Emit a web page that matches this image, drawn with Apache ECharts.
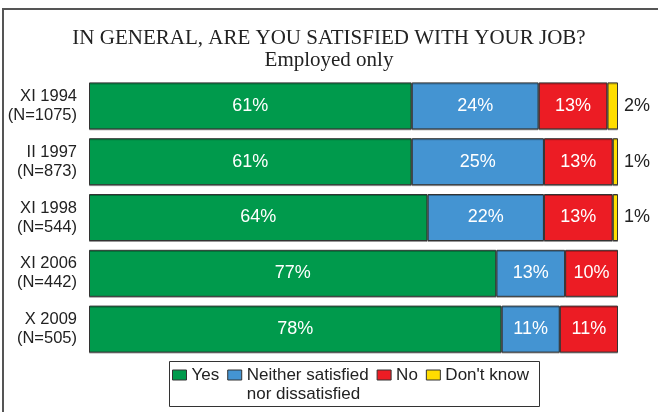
<!DOCTYPE html>
<html>
<head>
<meta charset="utf-8">
<style>
  html, body { margin: 0; padding: 0; background: #fff; }
  #chart { width: 658px; height: 412px; }
</style>
<script src="https://cdn.jsdelivr.net/npm/echarts@6/dist/echarts.min.js"></script>
</head>
<body>
<div id="chart"></div>
<script>
// Survey waves and sample sizes
const periods = ['XI 1994', 'II 1997', 'XI 1998', 'XI 2006', 'X 2009'];
const sampleSizes = [1075, 873, 544, 442, 505];

// Answer shares, percent
const yesValues = [61, 61, 64, 77, 78];
const neitherValues = [24, 25, 22, 13, 11];
const noValues = [13, 13, 13, 10, 11];
const dontKnowValues = [2, 1, 1, null, null];

const NEITHER = 'Neither satisfied nor dissatisfied';
const seriesNames = ['Yes', NEITHER, 'No', "Don't know"];
const seriesColors = ['#009a4c', '#4494d2', '#ec1c24', '#ffdd00'];

const categories = periods.map((p, i) => p + '\n(N=' + sampleSizes[i] + ')');

const sans = '"Liberation Sans", Arial, sans-serif';
const serif = '"Liberation Serif", "Times New Roman", serif';

function barSeries(name, values, color, outside) {
  return {
    name: name,
    type: 'bar',
    stack: 'total',
    barWidth: 47,
    data: values.map(v => (v === null ? '-' : v)),
    itemStyle: {
      color: color,
      borderColor: '#333',
      borderWidth: 1,
      shadowColor: 'rgba(0,0,0,0.3)',
      shadowOffsetY: 1
    },
    label: {
      show: true,
      position: outside ? 'right' : 'inside',
      distance: 6,
      formatter: p => p.value + '%',
      color: outside ? '#222' : '#fff',
      fontFamily: sans,
      fontSize: 18
    },
    emphasis: { disabled: true }
  };
}

const chart = echarts.init(document.getElementById('chart'), null, { renderer: 'canvas' });

chart.setOption({
  animation: false,
  backgroundColor: '#fff',
  title: {
    text: 'IN GENERAL, ARE YOU SATISFIED WITH YOUR JOB?',
    subtext: 'Employed only',
    left: 'center',
    top: 23,
    itemGap: 1,
    textStyle: { fontFamily: serif, fontSize: 21, fontWeight: 'normal', color: '#222' },
    subtextStyle: { fontFamily: serif, fontSize: 21, color: '#222' }
  },
  grid: { left: 89, right: 40, top: 78, height: 279, containLabel: false },
  xAxis: { type: 'value', min: 0, max: 100, show: false },
  yAxis: {
    type: 'category',
    inverse: true,
    data: categories,
    axisLine: { show: false },
    axisTick: { show: false },
    axisLabel: {
      margin: 12,
      align: 'right',
      fontFamily: sans,
      fontSize: 16.5,
      lineHeight: 19,
      color: '#222'
    }
  },
  legend: {
    left: 172,
    top: 366.5,
    padding: 0,
    itemWidth: 14,
    itemHeight: 10,
    itemGap: 8,
    selectedMode: false,
    icon: 'rect',
    itemStyle: { borderColor: '#333', borderWidth: 1 },
    data: [
      { name: 'Yes' },
      { name: NEITHER, textStyle: { padding: [19, 0, 0, 0] } },
      { name: 'No' },
      { name: "Don't know" }
    ],
    formatter: name => (name === NEITHER
      ? '{t|Neither satisfied}\n{t|nor dissatisfied}'
      : '{t|' + name + '}'),
    textStyle: {
      fontFamily: sans,
      fontSize: 17,
      color: '#222',
      rich: { t: { fontFamily: sans, fontSize: 17, lineHeight: 19, color: '#222' } }
    }
  },
  graphic: [
    {
      type: 'polyline',
      silent: true,
      shape: { points: [[3, 412], [3, 9], [658, 9]] },
      style: { stroke: '#555', lineWidth: 2, fill: null }
    },
    {
      type: 'rect',
      silent: true,
      shape: { x: 169.5, y: 361.5, width: 370, height: 45 },
      style: { stroke: '#333', lineWidth: 1, fill: null }
    }
  ],
  series: [
    barSeries(seriesNames[0], yesValues, seriesColors[0], false),
    barSeries(seriesNames[1], neitherValues, seriesColors[1], false),
    barSeries(seriesNames[2], noValues, seriesColors[2], false),
    barSeries(seriesNames[3], dontKnowValues, seriesColors[3], true)
  ]
});
</script>
</body>
</html>
